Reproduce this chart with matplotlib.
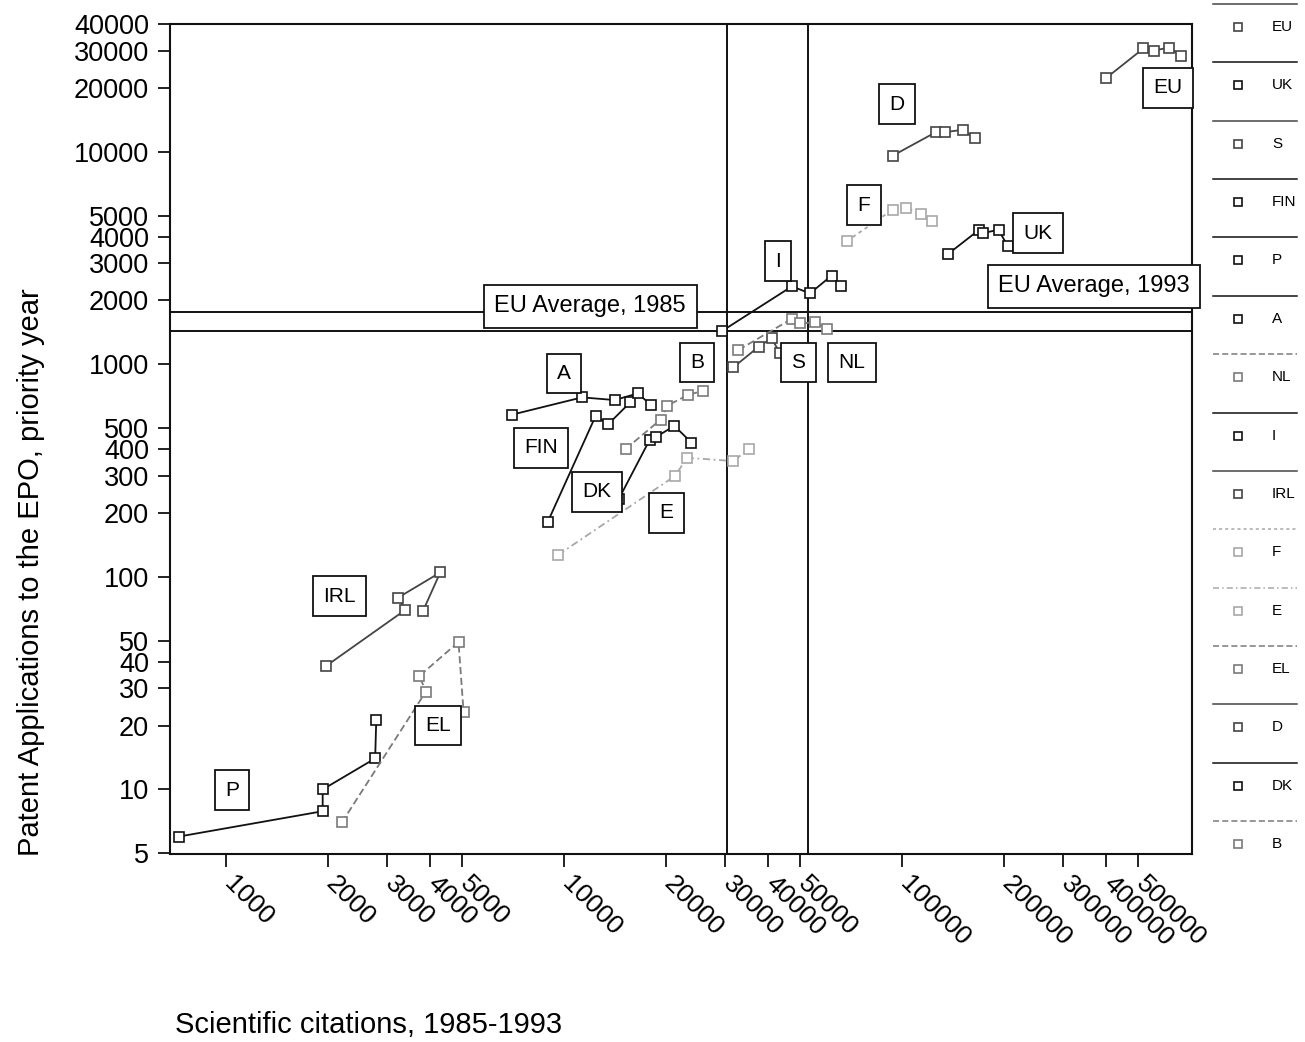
import matplotlib
matplotlib.use("Agg")
import matplotlib.pyplot as plt
from matplotlib.ticker import FixedLocator, NullLocator
from matplotlib.transforms import ScaledTranslation

plt.rcParams["font.family"] = ["Liberation Sans", "DejaVu Sans"]

# Scientific citations (x) and EPO patent applications (y), 1985-1993
eu_cit = [402000, 518000, 557000, 617000, 670000]
eu_pat = [22300, 30700, 30000, 31000, 28400]
uk_cit = [136500, 169000, 173000, 193000, 205500]
uk_pat = [3300, 4300, 4150, 4300, 3600]
s_cit = [31700, 37600, 41100, 43500]
s_pat = [970, 1210, 1330, 1130]
fin_cit = [8950, 12400, 13500, 15700]
fin_pat = [182, 573, 523, 664]
p_cit = [723, 1930, 1930, 2760, 2780]
p_pat = [6.0, 7.9, 10.0, 14.0, 21.2]
a_cit = [7000, 11300, 14100, 16500, 18100]
a_pat = [580, 700, 680, 730, 645]
nl_cit = [32800, 47200, 49900, 55300, 59900]
nl_pat = [1170, 1640, 1560, 1580, 1470]
i_cit = [29400, 47200, 53400, 61900, 65900]
i_pat = [1440, 2330, 2160, 2620, 2330]
irl_cit = [1970, 3390, 3230, 4300, 3820]
irl_pat = [38, 70, 80, 105, 69]
f_cit = [68600, 93800, 103000, 114000, 123000]
f_pat = [3800, 5350, 5450, 5100, 4750]
e_cit = [9600, 21300, 23100, 31700, 35300]
e_pat = [127, 299, 364, 351, 402]
el_cit = [2200, 3900, 3730, 4870, 5040]
el_pat = [7.0, 28.9, 34.2, 49.4, 23.2]
d_cit = [93800, 126000, 134000, 151000, 164000]
d_pat = [9600, 12400, 12400, 12700, 11600]
dk_cit = [14500, 17900, 18700, 21200, 23800]
dk_pat = [232, 441, 456, 514, 429]
b_cit = [15200, 19300, 20200, 23300, 25700]
b_pat = [400, 550, 640, 720, 750]

# EU averages
avg_cit = [30300, 52700]
avg_pat = [1430, 1770]

x_ticks = [1000, 2000, 3000, 4000, 5000, 10000, 20000, 30000, 40000, 50000,
           100000, 200000, 300000, 400000, 500000]
y_ticks = [5, 10, 20, 30, 40, 50, 100, 200, 300, 400, 500, 1000, 2000, 3000,
           4000, 5000, 10000, 20000, 30000, 40000]

# country boxes: name, x, y
country_labels = [
    ("EU", 612000, 20000), ("D", 96600, 16800), ("F", 77200, 5620),
    ("UK", 252700, 4150), ("I", 42960, 3060), ("A", 10000, 907),
    ("B", 24730, 1021), ("S", 49250, 1021), ("NL", 71100, 1021),
    ("FIN", 8550, 406), ("DK", 12520, 252), ("E", 20040, 200),
    ("IRL", 2160, 81.3), ("EL", 4240, 20.0), ("P", 1041, 9.9),
]
avg_labels = [
    ("EU Average, 1985", 11940, 1880),
    ("EU Average, 1993", 369800, 2330),
]

BLACK = "#111111"
DARK = "#444444"
GREY = "#7a7a7a"
LIGHT = "#a8a8a8"

# legend order, line style per series
series = [
    ("EU", eu_cit, eu_pat, DARK, "-"),
    ("UK", uk_cit, uk_pat, BLACK, "-"),
    ("S", s_cit, s_pat, DARK, "-"),
    ("FIN", fin_cit, fin_pat, BLACK, "-"),
    ("P", p_cit, p_pat, BLACK, "-"),
    ("A", a_cit, a_pat, BLACK, "-"),
    ("NL", nl_cit, nl_pat, GREY, (0, (4, 2))),
    ("I", i_cit, i_pat, BLACK, "-"),
    ("IRL", irl_cit, irl_pat, DARK, "-"),
    ("F", f_cit, f_pat, LIGHT, (0, (2, 2))),
    ("E", e_cit, e_pat, LIGHT, (0, (4, 2, 1, 2))),
    ("EL", el_cit, el_pat, GREY, (0, (4, 2))),
    ("D", d_cit, d_pat, DARK, "-"),
    ("DK", dk_cit, dk_pat, BLACK, "-"),
    ("B", b_cit, b_pat, GREY, (0, (4, 2))),
]


def main():
    fig = plt.figure(figsize=(13.05, 10.42), dpi=100)
    ax = fig.add_axes([170 / 1305, 1 - 854 / 1042, 1022 / 1305, 830 / 1042])
    ax.set_xscale("log")
    ax.set_yscale("log")
    ax.set_xlim(682, 721000)
    ax.set_ylim(4.97, 40000)

    # reference lines for the EU average
    for v in avg_cit:
        ax.axvline(v, color=BLACK, lw=1.4, zorder=1)
    for v in avg_pat:
        ax.axhline(v, color=BLACK, lw=1.4, zorder=1)

    for name, xs, ys, col, ls in series:
        ax.plot(xs, ys, color=col, ls=ls, lw=1.3, marker="s", ms=7,
                mfc="white", mec=col, mew=1.2, zorder=3)

    for txt, x, y in country_labels:
        ax.text(x, y, txt, fontsize=15, ha="center", va="center", zorder=4,
                bbox=dict(boxstyle="square,pad=0.5", fc="white", ec=BLACK, lw=1.3))
    for txt, x, y in avg_labels:
        ax.text(x, y, txt, fontsize=17, ha="center", va="center", zorder=4,
                bbox=dict(boxstyle="square,pad=0.45", fc="white", ec=BLACK, lw=1.3))

    ax.xaxis.set_major_locator(FixedLocator(x_ticks))
    ax.xaxis.set_minor_locator(NullLocator())
    ax.set_xticklabels([str(t) for t in x_ticks], rotation=-45, ha="left",
                       va="top", rotation_mode="anchor")
    ax.yaxis.set_major_locator(FixedLocator(y_ticks))
    ax.yaxis.set_minor_locator(NullLocator())
    ax.set_yticklabels([str(t) for t in y_ticks])
    ax.tick_params(axis="both", direction="out", length=9, width=1.3,
                   color=BLACK)
    ax.tick_params(axis="y", labelsize=19.5, pad=6)
    ax.tick_params(axis="x", labelsize=19, pad=4)
    # nudge the slanted citation labels to the right of their ticks
    shift = ScaledTranslation(0.10, 0, fig.dpi_scale_trans)
    for lab in ax.get_xticklabels():
        lab.set_transform(lab.get_transform() + shift)
    for sp in ax.spines.values():
        sp.set_linewidth(1.5)
        sp.set_color(BLACK)

    fig.text(31 / 1305, 1 - 572 / 1042,
             "Patent Applications to the EPO, priority year",
             fontsize=21, rotation=90, ha="center", va="center")
    fig.text(175 / 1305, 1 - 1025 / 1042, "Scientific citations, 1985-1993",
             fontsize=21, ha="left", va="center")

    # hand-drawn legend on the right margin
    leg = fig.add_axes([1205 / 1305, 0, 100 / 1305, 1])
    leg.set_xlim(1205, 1305)
    leg.set_ylim(1042, 0)
    leg.axis("off")
    for k, (name, xs, ys, col, ls) in enumerate(series):
        yy = 27 + k * 58.36
        leg.plot([1213, 1297], [yy - 23, yy - 23], color=col, ls=ls, lw=1.1)
        leg.plot([1238], [yy], marker="s", ms=6, mfc="white", mec=col, mew=1.2)
        leg.text(1272, yy, name, fontsize=11, ha="left", va="center")

    fig.savefig("out.png", dpi=100)


if __name__ == "__main__":
    main()
